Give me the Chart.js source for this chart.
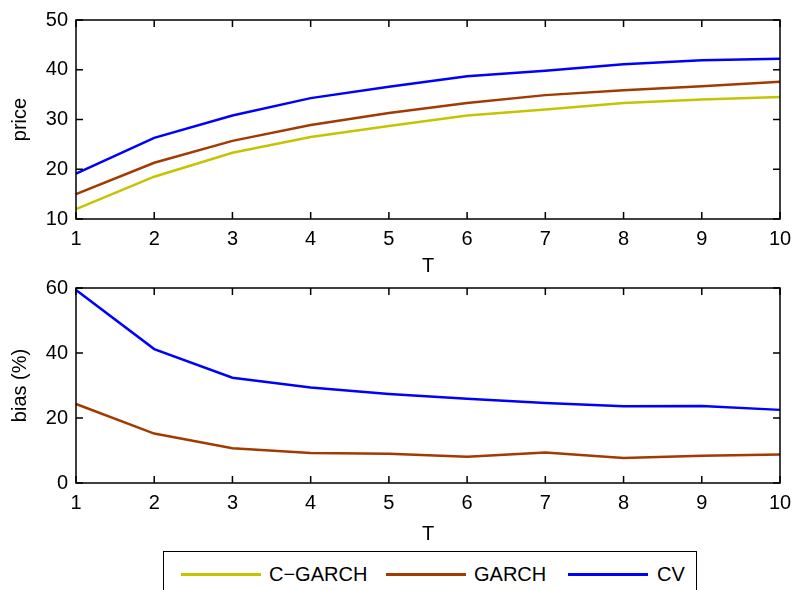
<!DOCTYPE html>
<html>
<head>
<meta charset="utf-8">
<script src="https://cdn.jsdelivr.net/npm/chart.js@4.4.1/dist/chart.umd.min.js"></script>
<style>
  html, body { margin: 0; padding: 0; background: #fff; }
  #wrap { position: relative; width: 793px; height: 590px; overflow: hidden; background: #fff;
          font-family: "Liberation Sans", Arial, Helvetica, sans-serif; }
  canvas { position: absolute; left: 0; }
  #c1 { top: 0; }
  #c2 { top: 275px; }
  #legend { position: absolute; left: 163px; top: 551px; width: 534px; height: 60px;
            border: 1.5px solid #000; box-sizing: border-box; background: #fff; }
  .sw { position: absolute; top: 21px; height: 2.5px; }
  .lt { position: absolute; top: 10px; font-size: 20px; line-height: 24px; color: #000; white-space: nowrap; }
</style>
</head>
<body>
<div id="wrap">
  <canvas id="c1" width="793" height="280"></canvas>
  <canvas id="c2" width="793" height="273"></canvas>
  <div id="legend"></div>
</div>
<script>
// ---- data ----
const T = [1, 2, 3, 4, 5, 6, 7, 8, 9, 10];
const seriesNames = ['C\u2212GARCH', 'GARCH', 'CV'];
const priceCGARCH = [12.0, 18.5, 23.3, 26.5, 28.7, 30.8, 32.0, 33.3, 34.0, 34.5];
const priceGARCH  = [15.0, 21.3, 25.7, 28.9, 31.3, 33.3, 34.9, 35.9, 36.7, 37.6];
const priceCV     = [19.1, 26.3, 30.8, 34.3, 36.6, 38.7, 39.8, 41.1, 41.9, 42.2];
const biasGARCH   = [24.3, 15.2, 10.7, 9.2, 9.0, 8.1, 9.4, 7.7, 8.4, 8.8];
const biasCV      = [59.4, 41.2, 32.4, 29.4, 27.4, 25.9, 24.6, 23.6, 23.7, 22.5];
const priceTicks  = [10, 20, 30, 40, 50];
const biasTicks   = [0, 20, 40, 60];

const COLORS = { 'C\u2212GARCH': '#c4c400', 'GARCH': '#a33a00', 'CV': '#0000ff' };
const FONT = '"Liberation Sans", Arial, Helvetica, sans-serif';

Chart.defaults.font.family = FONT;
Chart.defaults.color = '#000';

// MATLAB-like box with inward ticks on all four sides
const boxPlugin = {
  id: 'box',
  afterDatasetsDraw(chart) {
    const { ctx, chartArea: a, scales } = chart;
    const L = 7;
    ctx.save();
    ctx.strokeStyle = '#000';
    ctx.lineWidth = 1.5;
    ctx.strokeRect(a.left, a.top, a.right - a.left, a.bottom - a.top);
    ctx.beginPath();
    scales.x.ticks.forEach((t, i) => {
      const px = scales.x.getPixelForTick(i);
      ctx.moveTo(px, a.bottom); ctx.lineTo(px, a.bottom - L);
      ctx.moveTo(px, a.top); ctx.lineTo(px, a.top + L);
    });
    scales.y.ticks.forEach(t => {
      const py = scales.y.getPixelForValue(t.value);
      ctx.moveTo(a.left, py); ctx.lineTo(a.left + L, py);
      ctx.moveTo(a.right, py); ctx.lineTo(a.right - L, py);
    });
    ctx.stroke();
    ctx.restore();
  }
};

function ds(name, values) {
  return {
    label: name, data: values, borderColor: COLORS[name], backgroundColor: COLORS[name],
    borderWidth: 2.5, pointRadius: 0, tension: 0, fill: false
  };
}

function makeChart(id, datasets, yTicks, yTitle, padTop, xHeight) {
  return new Chart(document.getElementById(id), {
    type: 'line',
    data: { labels: T.map(String), datasets },
    options: {
      responsive: false, animation: false, devicePixelRatio: 1,
      layout: { padding: { top: padTop, right: 13, left: 0, bottom: 0 } },
      plugins: { legend: { display: false }, tooltip: { enabled: false } },
      scales: {
        x: {
          type: 'category', offset: false,
          grid: { display: false, drawTicks: false }, border: { display: false },
          ticks: { font: { size: 20 }, color: '#000', padding: 8, maxRotation: 0, autoSkip: false },
          title: { display: true, text: 'T', font: { size: 20 }, color: '#000', padding: { top: 0, bottom: 2 } },
          afterFit(s) { s.height = xHeight; s.paddingLeft = 0; s.paddingRight = 0; }
        },
        y: {
          min: yTicks[0], max: yTicks[yTicks.length - 1],
          grid: { display: false, drawTicks: false }, border: { display: false },
          afterBuildTicks(s) { s.ticks = yTicks.map(v => ({ value: v })); },
          ticks: { font: { size: 20 }, color: '#000', padding: 8 },
          title: { display: true, text: yTitle, font: { size: 20 }, color: '#000', padding: { top: 8, bottom: 0 } },
          afterFit(s) { s.width = 76; s.paddingTop = 0; s.paddingBottom = 0; }
        }
      }
    },
    plugins: [boxPlugin]
  });
}

makeChart('c1', [
  ds('C\u2212GARCH', priceCGARCH),
  ds('GARCH', priceGARCH),
  ds('CV', priceCV)
], priceTicks, 'price', 20, 61);

makeChart('c2', [
  ds('GARCH', biasGARCH),
  ds('CV', biasCV)
], biasTicks, 'bias (%)', 13, 65);

// legend
const lg = document.getElementById('legend');
const swX = [17, 222, 404];   // swatch left offsets inside legend box
const txX = [105, 310, 493];  // text left offsets inside legend box
seriesNames.forEach((n, i) => {
  const sw = document.createElement('div');
  sw.className = 'sw';
  sw.style.left = swX[i] + 'px';
  sw.style.width = '80px';
  sw.style.background = COLORS[n];
  lg.appendChild(sw);
  const tx = document.createElement('div');
  tx.className = 'lt';
  tx.style.left = txX[i] + 'px';
  tx.textContent = n;
  lg.appendChild(tx);
});
</script>
</body>
</html>
